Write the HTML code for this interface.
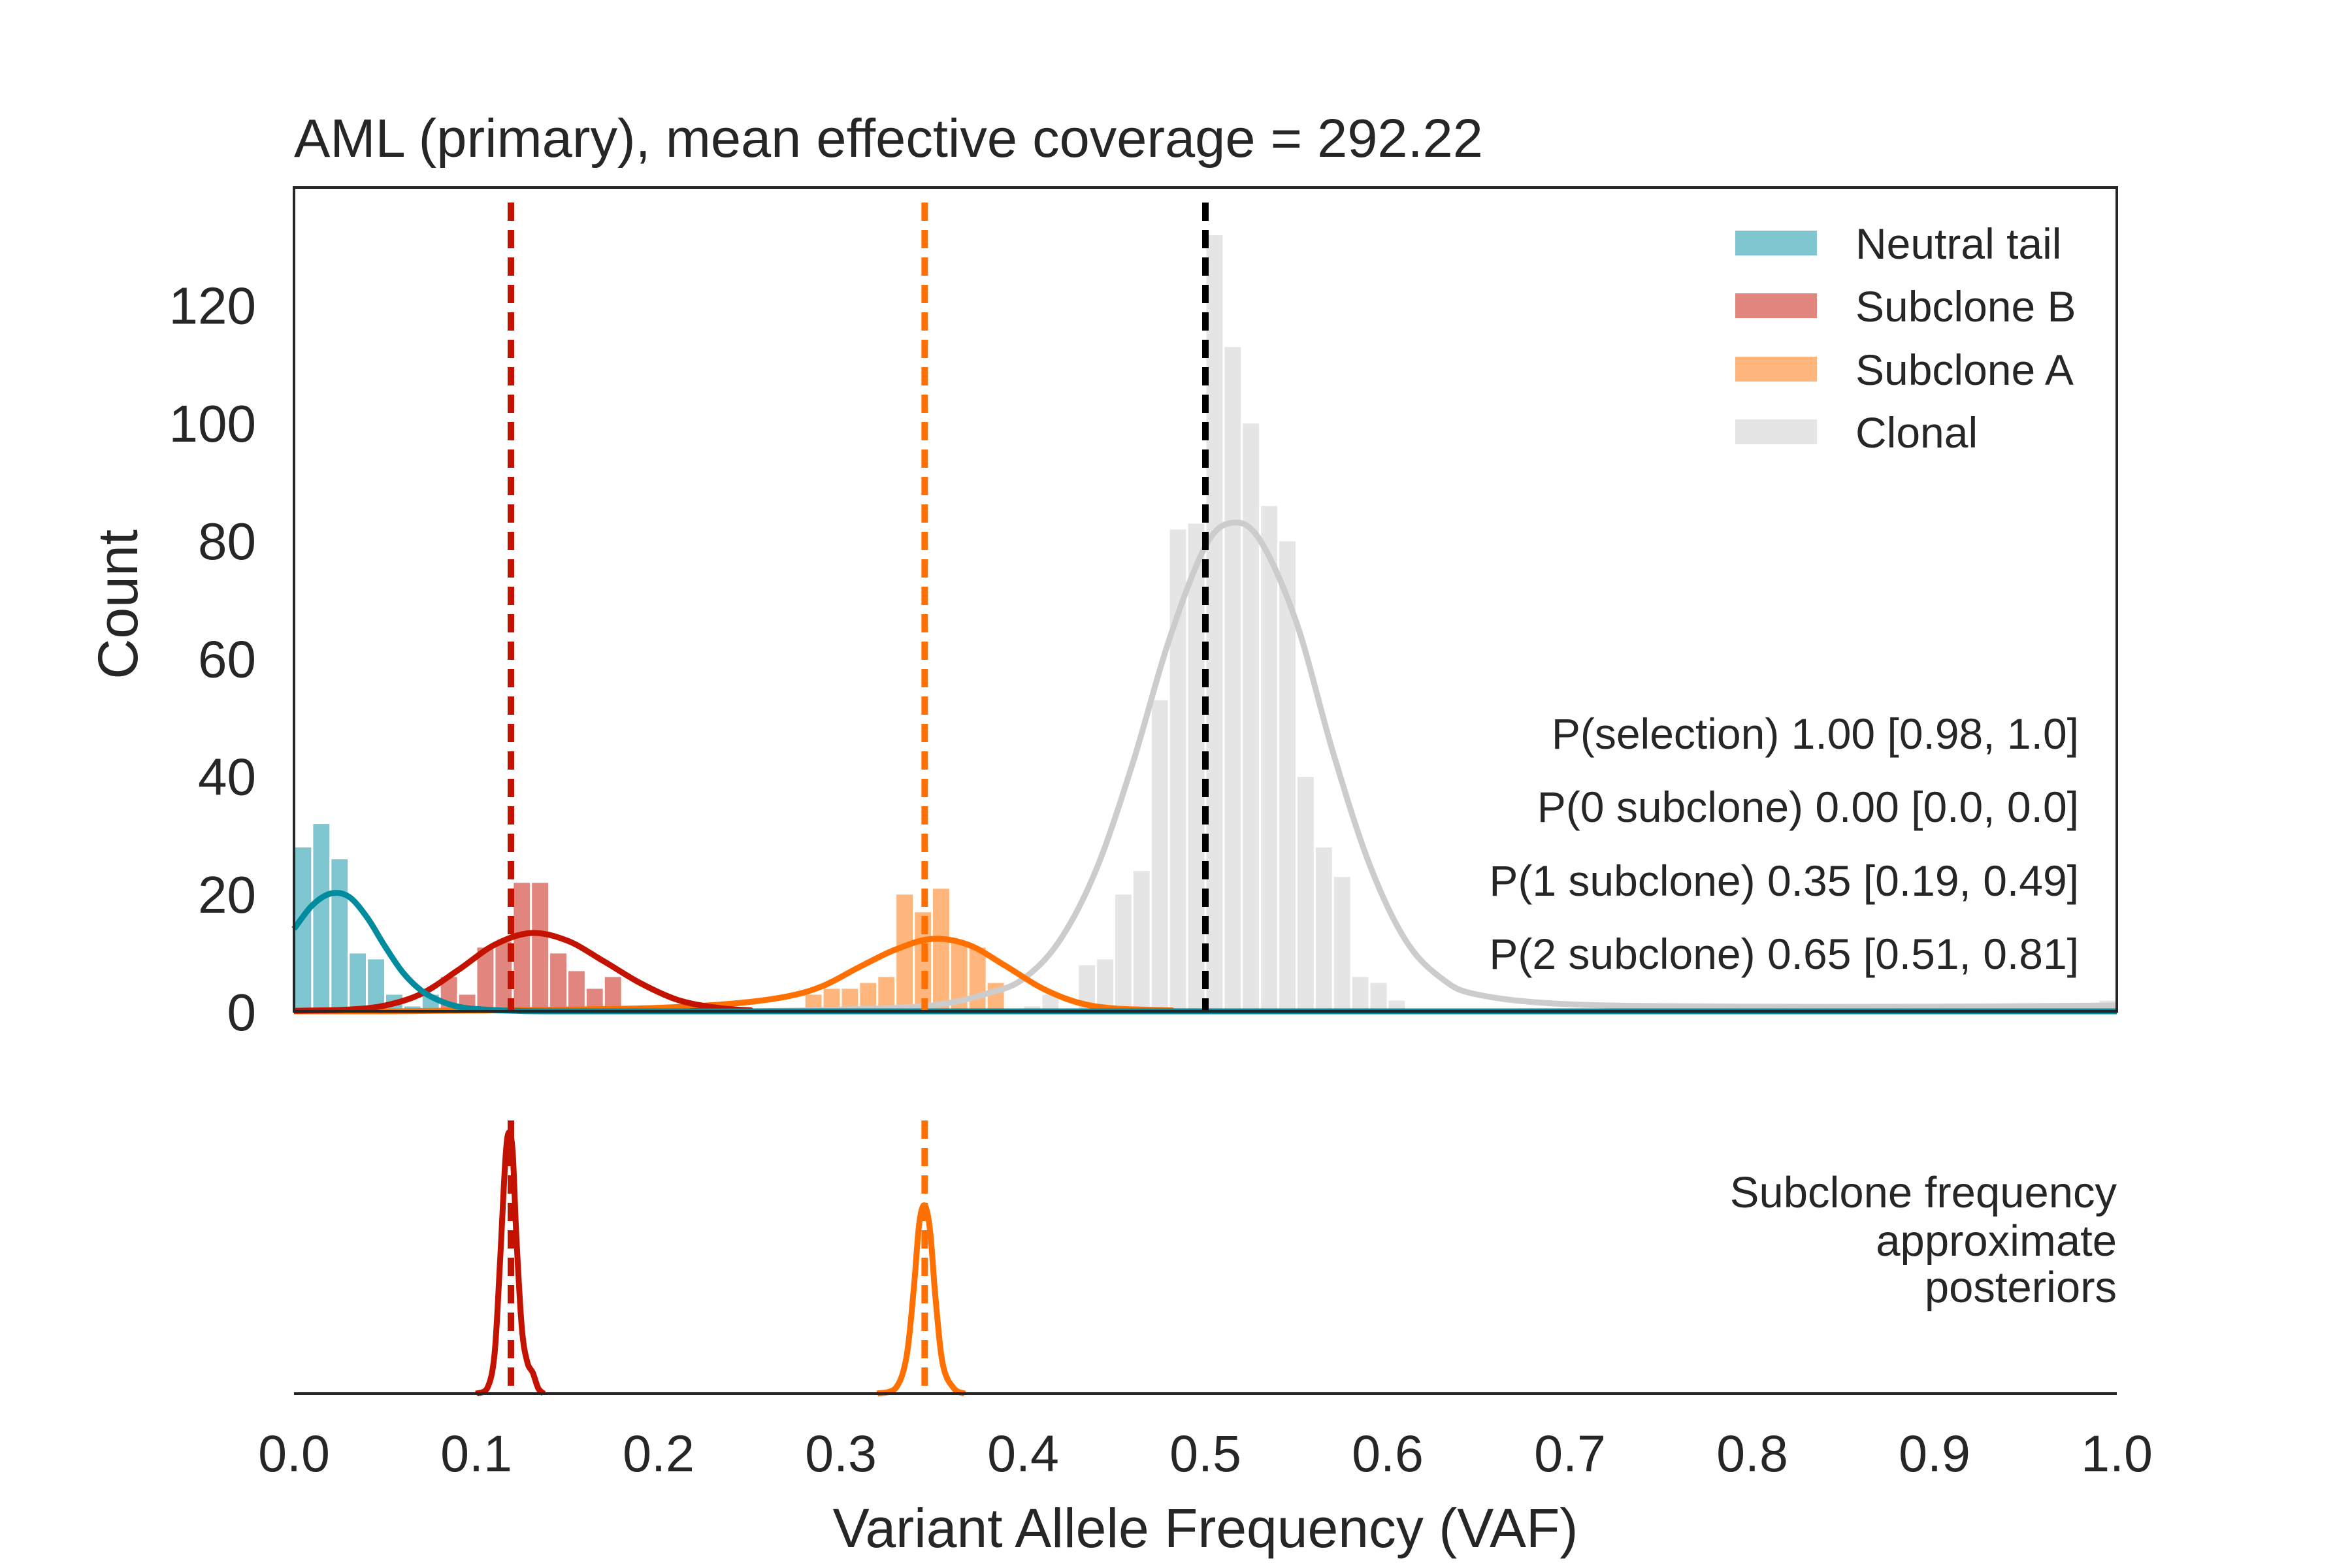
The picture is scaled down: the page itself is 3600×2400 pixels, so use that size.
<!DOCTYPE html>
<html><head><meta charset="utf-8"><style>
html,body{margin:0;padding:0;background:#fff}
svg{display:block}
text{font-family:"Liberation Sans",sans-serif;fill:#262626}
</style></head><body>
<svg id="chart" width="3600" height="2400" viewBox="0 0 3600 2400" xmlns="http://www.w3.org/2000/svg">
<rect width="3600" height="2400" fill="#fff"/>
<g id="bars"></g><g id="curves"></g><g id="lower"></g><g id="axes"></g>
</svg>
<script>
// ---- data ----
const binWidth = 0.01;
const tailStart = 0; const tailCounts = [28,32,26,10,9,3,1,3];
const subBStart = 8; const subBCounts = [6,3,11,12,22,22,10,7,4,6,0,1];
const subAStart = 23; const subACounts = [1,0,0,0,0,3,4,4,5,6,20,17,21,12,11,5];
const clonalStart = 40; const clonalCounts = [1,3,0,8,9,20,24,53,82,83,132,113,100,86,80,40,28,23,6,5,2];
const clonalEdgeBin = 99; const clonalEdgeCount = 2;

const tailCurveX = [0,0.01,0.02,0.03,0.04,0.05,0.06,0.07,0.08,0.09,0.10,0.12,0.15,0.3,1.0];
const tailCurveY = [14,18,20,19.5,16,11,6.5,3.5,1.8,0.8,0.4,0.1,0,0,0];
const subBCurveX = [0,0.03,0.05,0.07,0.09,0.11,0.13,0.15,0.17,0.19,0.21,0.23,0.25,0.28,1.0];
const subBCurveY = [0.1,0.3,1,3,7,11.3,13.3,12,8.5,4.8,2,0.7,0.2,0,0];
const subACurveX = [0,0.05,0.08,0.15,0.2,0.24,0.27,0.29,0.31,0.33,0.35,0.37,0.39,0.41,0.43,0.45,0.48,0.52,1.0];
const subACurveY = [0,0,0.1,0.3,0.6,1.3,2.5,4.3,7.5,10.5,12.3,11.3,7.8,4,1.5,0.5,0.2,0,0];
const clonalCurveX = [0.25,0.30,0.35,0.38,0.40,0.42,0.44,0.46,0.48,0.50,0.515,0.53,0.55,0.57,0.59,0.61,0.63,0.65,0.70,0.80,0.90,1.0];
const clonalCurveY = [0,0.3,1,3,5.5,12,24,42,63,79,83,80,66,44,25,12,5.5,2.8,1.2,0.8,0.8,1];

const subBMean = 0.119, subAMean = 0.346, clonalMean = 0.5;
const postBX = [0.100,0.106,0.110,0.113,0.116,0.118,0.120,0.122,0.125,0.128,0.131,0.134,0.137];
const postBY = [0,0.02,0.15,0.5,0.9,1,0.92,0.6,0.25,0.12,0.08,0.02,0];
const postAX = [0.320,0.330,0.336,0.340,0.343,0.346,0.349,0.352,0.356,0.362,0.368];
const postAY = [0,0.02,0.14,0.4,0.65,0.72,0.62,0.36,0.11,0.02,0];

const yTicks = [0,20,40,60,80,100,120];
const xTicks = [0,0.1,0.2,0.3,0.4,0.5,0.6,0.7,0.8,0.9,1.0];
const xTickLabels = ["0.0","0.1","0.2","0.3","0.4","0.5","0.6","0.7","0.8","0.9","1.0"];
const legendLabels = ["Neutral tail","Subclone B","Subclone A","Clonal"];
const pLabels = ["P(selection) 1.00 [0.98, 1.0]","P(0 subclone) 0.00 [0.0, 0.0]","P(1 subclone) 0.35 [0.19, 0.49]","P(2 subclone) 0.65 [0.51, 0.81]"];

// ---- layout ----
const L=450,R=3240,T=287,B=1548,LB=2133;
const X=v=>L+v*(R-L);
const Y=c=>B-c*9.012;
const PY=d=>LB-d*400;
const NS="http://www.w3.org/2000/svg";
function el(tag,attrs,parent){const e=document.createElementNS(NS,tag);for(const k in attrs)e.setAttribute(k,attrs[k]);parent.appendChild(e);return e;}
function smooth(xs,ys,fx,fy,base){const p=xs.map((x,i)=>[fx(x),fy(ys[i])]);let d=`M${p[0][0]},${p[0][1]}`;for(let i=0;i<p.length-1;i++){const p0=p[Math.max(0,i-1)],p1=p[i],p2=p[i+1],p3=p[Math.min(p.length-1,i+2)];const c1=[p1[0]+(p2[0]-p0[0])/6,p1[1]+(p2[1]-p0[1])/6],c2=[p2[0]-(p3[0]-p1[0])/6,p2[1]-(p3[1]-p1[1])/6];d+=`C${c1[0]},${Math.min(c1[1],base)} ${c2[0]},${Math.min(c2[1],base)} ${p2[0]},${p2[1]}`;}return d;}

const gb=document.getElementById('bars');
function drawBars(start,counts,color,name){counts.forEach((c,i)=>{if(c<=0)return;const x0=X((start+i)*binWidth),x1=X((start+i+1)*binWidth);const r=el('rect',{x:x0,y:Y(c),width:x1-x0,height:B-Y(c),fill:color,stroke:'#fff','stroke-width':3},gb);

});}
drawBars(clonalStart,clonalCounts,'#e5e5e5','clonal-bar');
drawBars(clonalEdgeBin,[clonalEdgeCount],'#e5e5e5','clonal-bar');
drawBars(subAStart,subACounts,'#ffb67c','subclone-a-bar');
drawBars(subBStart,subBCounts,'#e0867f','subclone-b-bar');
drawBars(tailStart,tailCounts,'#80c6d0','neutral-tail-bar');

const gc=document.getElementById('curves');
function curve(xs,ys,color,name){const p=el('path',{d:smooth(xs,ys,X,Y,B),fill:'none',stroke:color,'stroke-width':9},gc);

}
curve(clonalCurveX,clonalCurveY,'#cccccc','clonal-fit-curve');
curve(subACurveX,subACurveY,'#ff7000','subclone-a-fit-curve');
curve(subBCurveX,subBCurveY,'#c41200','subclone-b-fit-curve');
curve(tailCurveX,tailCurveY,'#008c9e','neutral-tail-fit-curve');
function vdash(v,y0,y1,color,name,g){const l=el('line',{x1:X(v),x2:X(v),y1:y0,y2:y1,stroke:color,'stroke-width':10,'stroke-dasharray':'28 14'},g);

}
vdash(subBMean,310,B,'#c41200','subclone-b-mean-line',gc);
vdash(subAMean,310,B,'#ff7000','subclone-a-mean-line',gc);
vdash(clonalMean,310,B,'#000','clonal-mean-line',gc);

const gl=document.getElementById('lower');
vdash(subBMean,1715,LB,'#c41200','subclone-b-posterior-mean',gl);
vdash(subAMean,1715,LB,'#ff7000','subclone-a-posterior-mean',gl);
let pb=el('path',{d:smooth(postBX,postBY,X,PY,LB),fill:'none',stroke:'#c41200','stroke-width':9},gl);


let pa=el('path',{d:smooth(postAX,postAY,X,PY,LB),fill:'none',stroke:'#ff7000','stroke-width':9},gl);



const ga=document.getElementById('axes');
let frame=el('rect',{x:L,y:T,width:R-L,height:B-T,fill:'none',stroke:'#262626','stroke-width':4},ga);


let lx=el('line',{x1:L,x2:R,y1:LB,y2:LB,stroke:'#262626','stroke-width':4},ga);


yTicks.forEach(t=>{const e=el('text',{x:392,y:Y(t)+29,'text-anchor':'end','font-size':80},ga);e.textContent=t;

});
xTicks.forEach((t,i)=>{const e=el('text',{x:X(t),y:2252,'text-anchor':'middle','font-size':79},ga);e.textContent=xTickLabels[i];

});
function txt(s,a,name){const e=el('text',a,ga);e.textContent=s;

return e;}
txt('AML (primary), mean effective coverage = 292.22',{x:450,y:240,'font-size':83},'chart-title');
txt('Count',{x:0,y:0,'font-size':86,'text-anchor':'middle',transform:'translate(210,925) rotate(-90)'},'y-axis-title');
txt('Variant Allele Frequency (VAF)',{x:(L+R)/2,y:2368,'font-size':84,'text-anchor':'middle'},'x-axis-title');
const legColors=['#80c6d0','#e0867f','#ffb67c','#e5e5e5'];
const legY=[372,468,565,661];
legendLabels.forEach((s,i)=>{let r=el('rect',{x:2656,y:legY[i]-19,width:125,height:38,fill:legColors[i]},ga);


txt(s,{x:2840,y:legY[i]+24,'font-size':66},'legend-entry');});
const pY=[1123,1235,1348,1460];
pLabels.forEach((s,i)=>txt(s,{x:3182,y:pY[i]+23,'font-size':66,'text-anchor':'end'},'probability-annotation'));
['Subclone frequency','approximate','posteriors'].forEach((s,i)=>txt(s,{x:3240,y:[1825,1899,1970][i]+23,'font-size':67,'text-anchor':'end'},'posterior-caption'));
</script>
</body></html>
